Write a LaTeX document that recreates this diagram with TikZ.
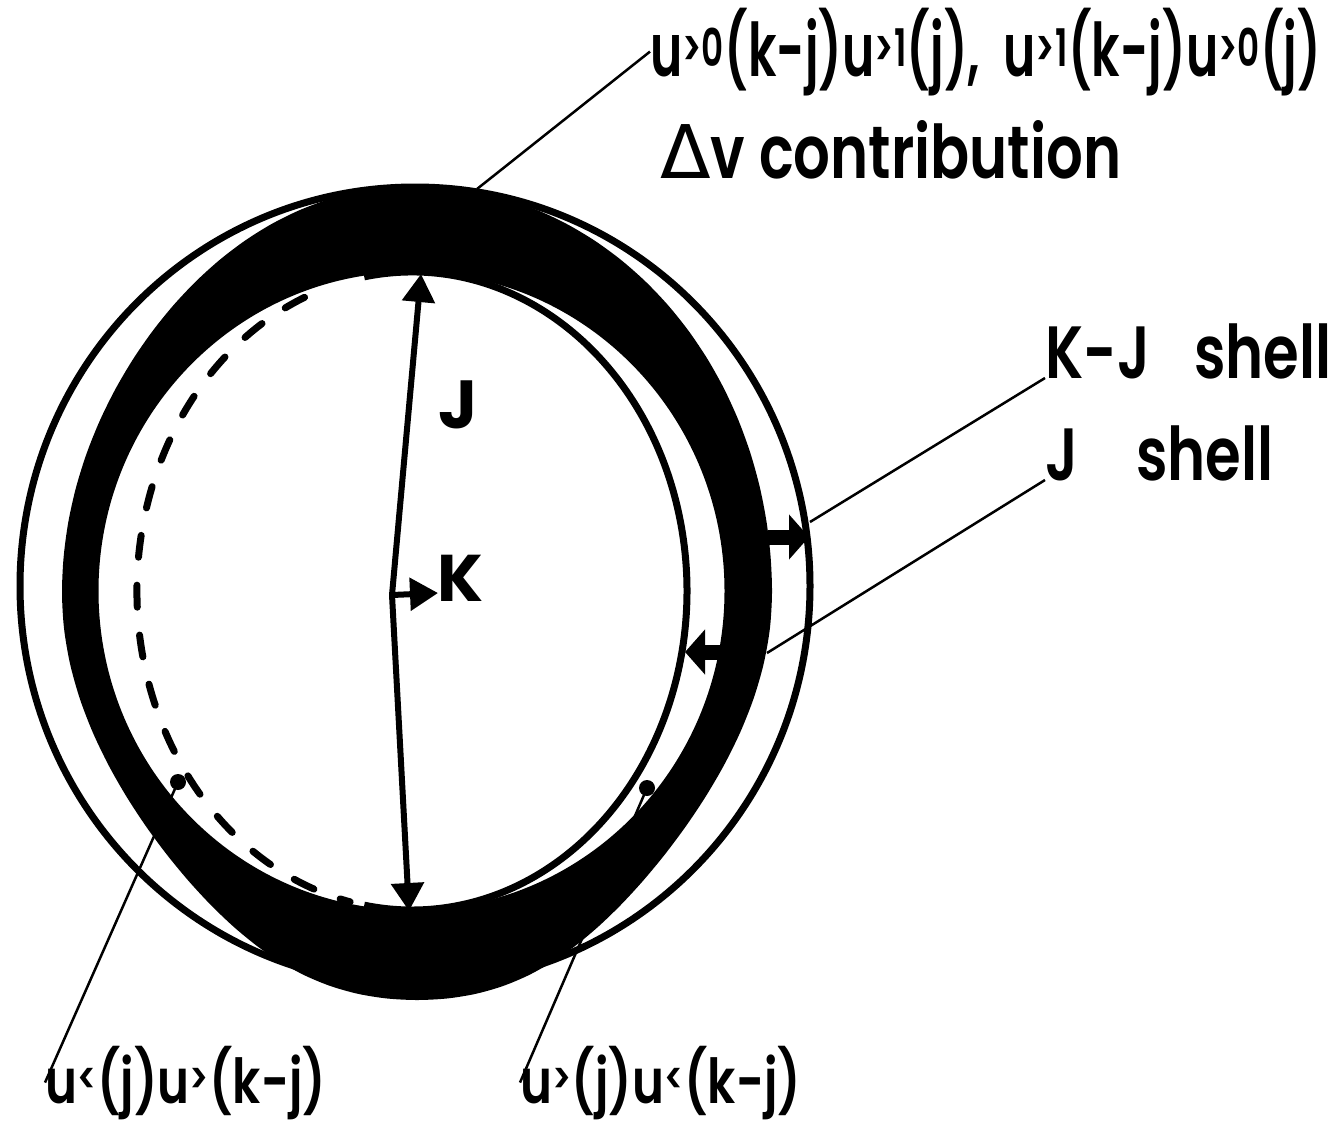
\documentclass[tikz,border=0pt]{standalone}
\usepackage{fontspec}
\setmainfont{Poppins}[UprightFont=* SemiBold, BoldFont=* Bold, FakeStretch=0.78]
\newfontfamily\topfont{Poppins}[UprightFont=* SemiBold, FakeStretch=0.66]
\newfontfamily\heavyfont{Poppins}[UprightFont=* Bold]
\newfontfamily\grkfont{DejaVu Sans}
\usetikzlibrary{arrows.meta}

\begin{document}
\begin{tikzpicture}[x=1pt, y=-1pt,
		shell/.style={line width=7pt},
		leader/.style={line width=2.5pt},
		radial/.style={line width=6pt, -{Triangle[length=28pt, width=32pt]}},
		gaparrow/.style={line width=15pt, -{Triangle[length=20pt, width=44pt]}},
		lbl/.style={inner sep=0pt, font=\fontsize{74}{80}\selectfont},
		smalllbl/.style={inner sep=0pt, font=\fontsize{62}{66}\selectfont},
		vec/.style={inner sep=0pt, font=\heavyfont\fontsize{#1}{#1}\selectfont},
		pin/.style={circle, fill, inner sep=0pt, minimum size=16pt}
		]
		\useasboundingbox (0,0) rectangle (1340,1130);
		
		% ==========================================
		% SHELLS
		% ==========================================
		% black band: overlap of the two shells (pulled in at the lower corners)
		\fill[even odd rule] plot[smooth cycle, domain=0:355, samples=72, variable=\t]
			({417+355*cos(\t)-100*max(0,cos(\t))^2*max(0,sin(\t))^2+90*max(0,-cos(\t))^2*max(0,sin(\t))^2+30*max(0,-cos(\t))^2*max(0,-sin(\t))^2},
			 {593+407*sin(\t)})
			(411.5,591) ellipse [x radius=313, y radius=319];
		
		% outer boundary of the K-J shell
		\draw[shell] (415,586) ellipse [x radius=395, y radius=399];
		
		% J sphere: solid on the right, dashed on the left
		\coordinate (J0) at (412,591);
		\draw[shell] (J0) ++(-100:275 and 319) arc [start angle=-100, end angle=100, x radius=275, y radius=319];
		\draw[line width=7pt, line cap=round, dash pattern=on 22pt off 28pt]
			(J0) ++(-113:275 and 319) arc [start angle=-113, end angle=-257, x radius=275, y radius=319];
		
		% ==========================================
		% WAVE VECTORS
		% ==========================================
		\coordinate (O) at (392,595);
		\coordinate (Jtop) at (421,274);
		\coordinate (Jbot) at (409,911);
		\coordinate (Ktip) at (438,593);
		\draw[radial] (O) -- (Jtop);
		\draw[radial] (O) -- (Jbot);
		\draw[radial] (O) -- (Ktip);
		\node[vec=68] (Jlbl) at (458,405) {J};
		\node[vec=66, anchor=west] (Klbl) at (437,578) {K};
		
		% shell widths
		\coordinate (kjbase) at (768,537);
		\coordinate (kjtip) at (809,537);
		\coordinate (jbase) at (729,652);
		\coordinate (jtip) at (685,652);
		\draw[gaparrow] (kjbase) -- (kjtip);
		\draw[gaparrow] (jbase) -- (jtip);
		
		% ==========================================
		% LABELS AND LEADERS
		% ==========================================
		\node[lbl, anchor=base west] (toplbl) at (650,76)
			{\topfont u\textsuperscript{>0}(k-j)u\textsuperscript{>1}(j),\ \ u\textsuperscript{>1}(k-j)u\textsuperscript{>0}(j)};
		\node[lbl, anchor=base west] (dvlbl) at (660,178) {{\grkfont Δ}v contribution};
		\node[lbl, anchor=base west] (kjlbl) at (1045,378) {K-J\hspace{44pt}shell};
		\node[lbl, anchor=base west] (jlbl) at (1045,480) {J\hspace{58pt}shell};
		\node[smalllbl, anchor=base west] (leftlbl) at (45,1103) {u\textsuperscript{<}(j)u\textsuperscript{>}(k-j)};
		\node[smalllbl, anchor=base west] (rightlbl) at (520,1103) {u\textsuperscript{>}(j)u\textsuperscript{<}(k-j)};
		
		\coordinate (bandtop) at (477,189);
		\coordinate (bandright) at (767,653);
		\coordinate (kjlead) at (810,522);
		\draw[leader] (bandtop) -- (toplbl.west);
		\draw[leader] (kjlead) -- (kjlbl.base west);
		\draw[leader] (bandright) -- (jlbl.base west);
		
		\node[pin] (pinL) at (178,782) {};
		\node[pin] (pinR) at (647,788) {};
		\draw[leader] (pinL.center) -- (leftlbl.west);
		\draw[leader] (pinR.center) -- (rightlbl.west);
		
	\end{tikzpicture}
\end{document}
